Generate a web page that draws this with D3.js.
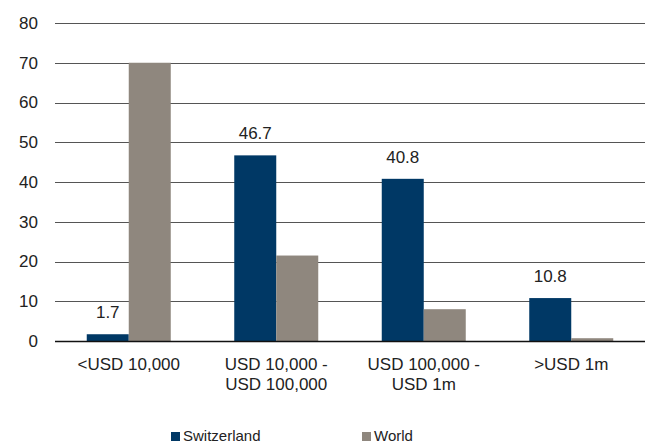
<!DOCTYPE html>
<html><head><meta charset="utf-8">
<script src="https://cdn.jsdelivr.net/npm/d3@7"></script>
<style>body{margin:0;background:#fff}svg{display:block}text{font-family:"Liberation Sans",Arial,sans-serif;fill:#222}</style>
</head><body><svg id="c" width="645" height="443"></svg>
<script>
const categories = [["<USD 10,000"], ["USD 10,000 -", "USD 100,000"], ["USD 100,000 -", "USD 1m"], [">USD 1m"]];
const seriesNames = ["Switzerland", "World"];
const switzerland = [1.7, 46.7, 40.8, 10.8];
const world = [70, 21.5, 8, 0.7];
const yTicks = [0, 10, 20, 30, 40, 50, 60, 70, 80];
const colors = ["#003865", "#8f877e"];

const svg = d3.select("#c");
const m = {l: 55, r: 0, t: 23, b: 102};
const W = 645, H = 443;
const x = d3.scaleBand().domain(d3.range(categories.length)).range([m.l, W - m.r]);
const y = d3.scaleLinear().domain([0, 80]).range([H - m.b, m.t]);
const barW = 42;

// gridlines
svg.append("g").selectAll("line").data(yTicks.filter(d => d > 0)).join("line")
  .attr("x1", m.l).attr("x2", W).attr("y1", d => Math.round(y(d)) + 0.5).attr("y2", d => Math.round(y(d)) + 0.5)
  .attr("stroke", "#555").attr("stroke-width", 1);

// y tick labels
svg.append("g").selectAll("text").data(yTicks).join("text")
  .attr("x", 38).attr("y", d => y(d)).attr("dy", "0.35em").attr("text-anchor", "end")
  .attr("font-size", 17).text(d => d);

const series = [switzerland, world];
series.forEach((vals, si) => {
  svg.append("g").selectAll("rect").data(vals).join("rect")
    .attr("x", (d, i) => x(i) + x.bandwidth() / 2 - barW + si * barW)
    .attr("y", d => y(d)).attr("width", barW).attr("height", d => y(0) - y(d))
    .attr("fill", colors[si]);
});

// value labels (Switzerland)
svg.append("g").selectAll("text").data(switzerland).join("text")
  .attr("x", (d, i) => x(i) + x.bandwidth() / 2 - barW / 2)
  .attr("y", d => y(d) - 16).attr("text-anchor", "middle").attr("font-size", 17)
  .text(d => d.toFixed(1));

// baseline
svg.append("line").attr("x1", m.l).attr("x2", W).attr("y1", Math.round(y(0)) + 0.5).attr("y2", Math.round(y(0)) + 0.5)
  .attr("stroke", "#111").attr("stroke-width", 1.3);

// x labels
const xl = svg.append("g").selectAll("text").data(categories).join("text")
  .attr("x", (d, i) => x(i) + x.bandwidth() / 2).attr("y", 370).attr("text-anchor", "middle").attr("font-size", 17);
xl.selectAll("tspan").data(d => d).join("tspan")
  .attr("x", function() { return this.parentNode.getAttribute("x"); })
  .attr("dy", (d, i) => i === 0 ? 0 : 20).text(d => d);

// legend
const legX = [171, 362];
seriesNames.forEach((n, i) => {
  svg.append("rect").attr("x", legX[i]).attr("y", 432).attr("width", 9).attr("height", 9).attr("fill", colors[i]);
  svg.append("text").attr("x", legX[i] + 12).attr("y", 441).attr("font-size", 15).text(n);
});
</script></body></html>
